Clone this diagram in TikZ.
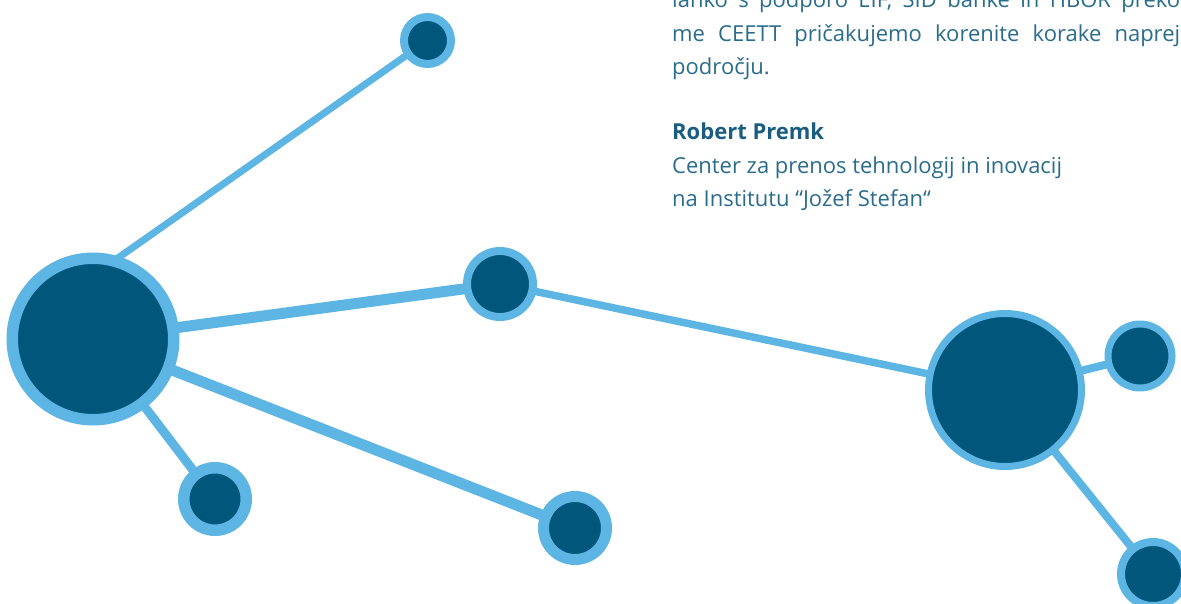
\documentclass[tikz,border=0pt]{standalone}
\usepackage{fontspec}
\setmainfont{Open Sans}
\usetikzlibrary{positioning,backgrounds}
\definecolor{bubbleRim}{HTML}{5DB5E4}
\definecolor{bubbleCore}{HTML}{00567B}
\definecolor{quoteText}{HTML}{2A6C8C}
\definecolor{nameText}{HTML}{1A5D80}

\begin{document}
\begin{tikzpicture}[
		x=1pt,y=-1pt,
		bubble/.style={circle, draw=bubbleRim, fill=bubbleCore, inner sep=0pt},
		link/.style={draw=bubbleRim},
		txt/.style={anchor=base west, inner sep=0pt, text=quoteText, font=\fontsize{22}{33}\selectfont}
	]
		\useasboundingbox (0,0) rectangle (1181,604);
		\clip (0,0) rectangle (1181,604);
		% bubbles
		\node[bubble, minimum size=161.5pt, line width=11.5pt] (hubL) at (93,339) {};
		\node[bubble, minimum size=47pt, line width=8pt] (leafT) at (427.5,40.5) {};
		\node[bubble, minimum size=66pt, line width=8pt] (hubM) at (500,284) {};
		\node[bubble, minimum size=62.5pt, line width=11.5pt] (leafBL) at (215,499) {};
		\node[bubble, minimum size=63pt, line width=11pt] (leafBM) at (575,528) {};
		\node[bubble, minimum size=153pt, line width=7pt] (hubR) at (1005,390) {};
		\node[bubble, minimum size=64pt, line width=7pt] (leafR) at (1140,356) {};
		\node[bubble, minimum size=64pt, line width=8pt] (leafBR) at (1153,574) {};
		% links
		\begin{scope}[on background layer]
			\draw[link, line width=7pt, shorten <=-14pt] (hubL.72) -- (leafT.center);
			\draw[link, line width=11pt] (hubL.center) -- (hubM.center);
			\draw[link, line width=9pt] (hubL.center) -- (leafBL.center);
			\draw[link, line width=11pt] (hubL.center) -- (leafBM.center);
			\draw[link, line width=7.5pt] (hubM.center) -- (hubR.center);
			\draw[link, line width=8pt] (hubR.center) -- (leafR.center);
			\draw[link, line width=8pt] (hubR.center) -- (leafBR.center);
		\end{scope}
		% quote
		\node[txt] (quote1) at (672,8) {\makebox[508pt][s]{lahko s podporo EIF, SID banke in HBOR preko}};
		\node[txt] (quote2) at (672,42) {\makebox[508pt][s]{me CEETT pričakujemo korenite korake naprej}};
		\node[txt] (quote3) at (672,75) {področju.};
		% signature
		\node[txt, text=nameText, font=\fontsize{22}{33}\selectfont\bfseries] (author) at (672,140) {Robert Premk};
		\node[txt] (affil1) at (672,174) {Center za prenos tehnologij in inovacij};
		\node[txt] (affil2) at (672,207) {na Institutu “Jožef Stefan“};
	\end{tikzpicture}
\end{document}
